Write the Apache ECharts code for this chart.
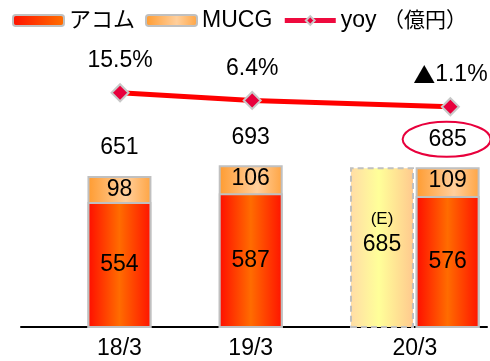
<!DOCTYPE html>
<html lang="ja">
<head>
    <meta charset="UTF-8">
    <title>アコム・MUCG</title>
    <style>
        html, body { margin: 0; padding: 0; background: #fff; }
        #container { width: 490px; height: 361px; }
    </style>
</head>
<body>
    <div id="container"></div>
    <script src="https://cdn.jsdelivr.net/npm/echarts@6/dist/echarts.min.js"></script>
    <script>
        // data (億円)
        var periods = ['18/3', '19/3', '20/3'];
        var slots = [0, 2, 5];          // x slots of the actual bars
        var acom = [554, 587, 576];
        var mucg = [98, 106, 109];
        var totals = [651, 693, 685];   // as printed (rounded)
        var forecastSlot = 4;
        var forecast = 685;
        var yoy = [15.5, 6.4, -1.1];
        var labelSlots = { '0': '18/3', '2': '19/3', '4.5': '20/3' };

        var FONT = "'Liberation Sans', 'DejaVu Sans', 'Noto Sans CJK JP', sans-serif";
        var FS = 23;
        var GREY = '#c0c0c0';

        function hGrad(stops) {
            return new echarts.graphic.LinearGradient(0, 0, 1, 0, stops.map(function (s) {
                return { offset: s[0], color: s[1] };
            }));
        }
        var acomFill = hGrad([[0, '#ff0c00'], [0.5, '#ff6c00'], [1, '#ff1200']]);
        var mucgFill = hGrad([[0, '#ff9b30'], [0.6, '#ffcf9c'], [1, '#ffa442']]);
        var estFill = hGrad([[0, '#ffdca6'], [0.45, '#ffff99'], [1, '#ffc88e']]);

        var ec = echarts.init(document.querySelector('#container'));

        var option = {
            backgroundColor: '#fff',
            animation: false,
            textStyle: { fontFamily: FONT },
            title: {
                text: '（億円）',
                left: 378,
                top: 4,
                textStyle: { fontSize: 21, fontWeight: 'normal', color: '#000', fontFamily: "'Noto Sans CJK JP', sans-serif" }
            },
            legend: {
                left: 7,
                top: 4,
                itemWidth: 51,
                itemHeight: 11,
                itemGap: 10,
                textStyle: { fontSize: 22, color: '#000', fontFamily: FONT },
                data: [
                    { name: 'アコム', itemStyle: { color: hGrad([[0, '#ff1000'], [1, '#ff7000']]) } },
                    { name: 'MUCG', textStyle: { fontSize: FS } },
                    { name: 'yoy', lineStyle: { color: '#ee0a3e', width: 5 }, textStyle: { fontSize: FS } }
                ]
            },
            grid: [
                { left: 21, right: 0, top: 137, bottom: 34 },
                { left: 21, right: 0, top: 89, height: 21 }
            ],
            xAxis: [{
                type: 'value',
                gridIndex: 0,
                min: -1.5,
                max: 5.6,
                interval: 0.5,
                splitLine: { show: false },
                axisTick: { show: false },
                axisLine: { onZero: false, lineStyle: { color: '#000', width: 2 } },
                axisLabel: {
                    margin: 10,
                    fontSize: FS,
                    color: '#000',
                    fontFamily: FONT,
                    formatter: function (v) { return labelSlots[String(v)] || ''; }
                }
            }, {
                type: 'value',
                gridIndex: 1,
                min: -1.5,
                max: 5.6,
                show: false
            }],
            yAxis: [
                { type: 'value', gridIndex: 0, min: 80, max: 800, show: false },
                { type: 'value', gridIndex: 1, min: -5, max: 20, show: false }
            ],
            series: [{
                name: 'MUCG',
                type: 'bar',
                barWidth: 64,
                barGap: '-100%',
                data: slots.map(function (x, i) { return [x, acom[i] + mucg[i]]; }),
                itemStyle: { color: mucgFill, borderColor: GREY, borderWidth: 2 },
                label: {
                    show: true,
                    position: 'insideTop',
                    distance: 2,
                    fontSize: FS,
                    color: '#000',
                    formatter: function (p) { return mucg[p.dataIndex]; }
                }
            }, {
                name: 'アコム',
                type: 'bar',
                barWidth: 64,
                barGap: '-100%',
                data: slots.map(function (x, i) { return [x, acom[i]]; }),
                itemStyle: { color: acomFill, borderColor: GREY, borderWidth: 2 },
                label: {
                    show: true,
                    position: 'inside',
                    fontSize: FS,
                    color: '#000',
                    formatter: function (p) { return acom[p.dataIndex]; }
                }
            }, {
                name: 'forecast',
                type: 'bar',
                barWidth: 64,
                barGap: '-100%',
                data: [[forecastSlot, forecast]],
                itemStyle: { color: estFill, borderColor: GREY, borderWidth: 2, borderType: [6, 4] },
                label: {
                    show: true,
                    position: 'inside',
                    offset: [0, -15],
                    formatter: '{a|(E)}\n{b|' + forecast + '}',
                    rich: {
                        a: { fontSize: 17, lineHeight: 24, color: '#000', fontFamily: FONT },
                        b: { fontSize: FS, lineHeight: 26, color: '#000', fontFamily: FONT }
                    }
                }
            }, {
                name: 'total',
                type: 'scatter',
                symbolSize: 1,
                itemStyle: { color: 'rgba(0,0,0,0)', opacity: 1 },
                data: slots.map(function (x, i) { return [x, acom[i] + mucg[i]]; }),
                label: {
                    show: true,
                    position: 'top',
                    distance: 16,
                    fontSize: FS,
                    color: '#000',
                    opacity: 1,
                    formatter: function (p) { return totals[p.dataIndex]; }
                },
                z: 5
            }, {
                name: 'yoy',
                type: 'line',
                xAxisIndex: 1,
                yAxisIndex: 1,
                clip: false,
                data: slots.map(function (x, i) { return [x, yoy[i]]; }),
                symbol: 'diamond',
                symbolSize: 17,
                lineStyle: { color: '#ff0000', width: 5 },
                itemStyle: { color: '#e8003c', borderColor: '#c8c8c8', borderWidth: 2 },
                label: {
                    show: true,
                    position: 'top',
                    distance: 11,
                    color: '#000',
                    formatter: function (p) {
                        var v = yoy[p.dataIndex];
                        return v < 0 ? '{t|▲}{n|' + Math.abs(v) + '%}' : '{n|' + v + '%}';
                    },
                    rich: {
                        t: { fontSize: 22, color: '#000', fontFamily: "'Noto Sans CJK JP', sans-serif" },
                        n: { fontSize: FS, color: '#000', fontFamily: FONT }
                    }
                },
                z: 6
            }]
        };
        ec.setOption(option);

        // circle round the 20/3 total
        var c = ec.convertToPixel({ xAxisIndex: 0, yAxisIndex: 0 }, [slots[2], acom[2] + mucg[2]]);
        ec.setOption({
            graphic: [{
                type: 'ellipse',
                shape: { cx: c[0] - 1, cy: c[1] - 28, rx: 44, ry: 17.5 },
                style: { fill: 'none', stroke: '#e8003c', lineWidth: 2 },
                z: 10
            }]
        });
    </script>
</body>
</html>
